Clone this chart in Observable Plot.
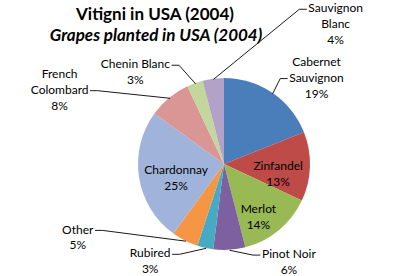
<!DOCTYPE html>
<html><head><meta charset="utf-8">
<script src="https://cdn.jsdelivr.net/npm/d3@7"></script>
<script src="https://cdn.jsdelivr.net/npm/@observablehq/plot@0.6"></script>
<style>
body{margin:0;background:#fff}
#chart{width:405px;height:276px}
svg{display:block}
</style>
</head><body><div id="chart"></div>
<script>
// ---- data ----
const varieties = ["Cabernet Sauvignon","Zinfandel","Merlot","Pinot Noir","Rubired","Other","Chardonnay","French Colombard","Chenin Blanc","Sauvignon Blanc"];
const shares = [19,13,14,6,3,5,25,8,3,4];
const title = "Vitigni in USA (2004)";
const subtitle = "Grapes planted in USA (2004)";

// ---- style / layout ----
const colors = ["#4A7EBB","#BE4B48","#98B954","#7D60A0","#46AAC5","#F69544","#A0B4DB","#D99694","#C3D69B","#B3A2C7"];
const labelRadius = [1.48,0.63,0.72,1.35,1.41,1.90,0.58,2.11,1.50,2.09];
const labelAngle  = [46.3,98.4,146.8,146.3,217.8,243.9,256,294.7,316.3,38.2];
const labelWrap   = [true,false,false,false,false,false,false,true,false,true];
const outside     = [true,false,false,true,true,true,false,true,true,true];
const attachLine  = [1,0,0,0,0,0,0,1,0,0];
const W = 405, H = 276;
const cxPx = 224, cyPx = 164, rPx = 86;
const font = "Lato, 'Open Sans', sans-serif";
const fs = 12, lh = 16;

const xDomain = [-cxPx / rPx, (W - cxPx) / rPx];
const yDomain = [-(H - cyPx) / rPx, cyPx / rPx];
const unit = 1 / rPx; // domain units per pixel

const rows = varieties.map((name, i) => ({name, value: shares[i], color: colors[i]}));
const arcs = d3.pie().sort(null).value(d => d.value)(rows);

const ctx = document.createElement("canvas").getContext("2d");
ctx.font = `${fs}px Lato`;

const labels = arcs.map((a, i) => {
  const nm = labelWrap[i] ? a.data.name.replace(" ", "\n") : a.data.name;
  const lines = [nm, a.data.value + "%"].join("\n").split("\n");
  const t = labelAngle[i] * Math.PI / 180;
  return {
    name: a.data.name, text: lines.join("\n"), lines,
    x: labelRadius[i] * Math.sin(t), y: labelRadius[i] * Math.cos(t),
    mid: (a.startAngle + a.endAngle) / 2, i
  };
});

const leaders = [];
labels.forEach(l => {
  if (!outside[l.i]) return;
  const maxW = d3.max(l.lines, s => ctx.measureText(s).width);
  const right = l.x > 0;
  const n = l.lines.length;
  const lineY = l.y - (attachLine[l.i] - (n - 1) / 2) * lh * unit - 2 * unit;
  const ax = l.x + (right ? -1 : 1) * (maxW / 2 + 2) * unit;
  const ex = ax + (right ? -1 : 1) * 7 * unit;
  leaders.push({name: l.name, x: Math.sin(l.mid), y: Math.cos(l.mid)});
  leaders.push({name: l.name, x: ex, y: lineY});
  leaders.push({name: l.name, x: ax, y: lineY});
});

function pieMark(index, scales) {
  const cx = scales.x(0), cy = scales.y(0), R = scales.x(1) - scales.x(0);
  const g = d3.create("svg:g").attr("transform", `translate(${cx},${cy})`);
  const arc = d3.arc().innerRadius(0).outerRadius(R);
  g.selectAll("path").data(arcs).join("path")
    .attr("d", arc).attr("fill", d => d.data.color);
  return g.node();
}

const chart = Plot.plot({
  width: W, height: H,
  margin: 0,
  style: {fontFamily: font, background: "#fff"},
  x: {domain: xDomain, axis: null},
  y: {domain: yDomain, axis: null},
  marks: [
    pieMark,
    Plot.line(leaders, {x: "x", y: "y", z: "name", stroke: "#000", strokeWidth: 0.9}),
    Plot.text(labels, {x: "x", y: "y", text: "text", fontSize: fs, lineHeight: lh / fs, fill: "#000"}),
    Plot.text([title], {frameAnchor: "top", dx: -48, dy: 7, fontSize: 17, fontWeight: "bold", fill: "#000"}),
    Plot.text([subtitle], {frameAnchor: "top", dx: -47, dy: 28, fontSize: 17, fontWeight: "bold", fontStyle: "italic", fill: "#000"})
  ]
});
document.getElementById("chart").appendChild(chart);
</script>
</body></html>
